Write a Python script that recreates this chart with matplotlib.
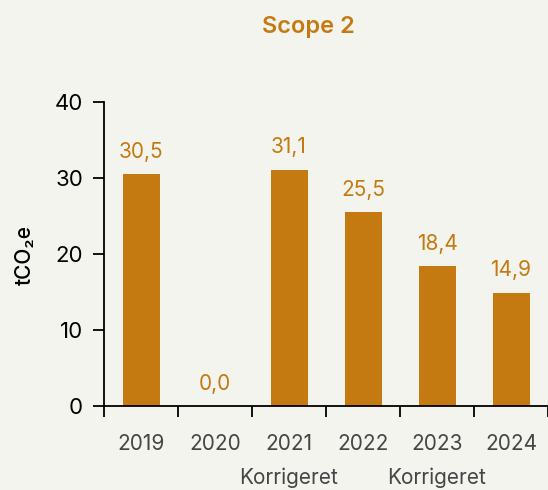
import matplotlib.pyplot as plt

plt.rcParams['font.family'] = ['Inter', 'DejaVu Sans']

years = ['2019', '2020', '2021', '2022', '2023', '2024']
notes = ['', '', 'Korrigeret', '', 'Korrigeret', '']
values = [30.5, 0.0, 31.1, 25.5, 18.4, 14.9]

bar_color = '#C47A10'
bg = '#F4F4EF'

fig = plt.figure(figsize=(5.48, 4.90), dpi=100, facecolor=bg)
ax = fig.add_axes([104/548, 1-406/490, 1-104/548, (406-102)/490])
ax.set_facecolor(bg)

x = list(range(len(years)))
bars = ax.bar(x, values, width=0.5, color=bar_color, zorder=2)

for xi, v in zip(x, values):
    ax.annotate(f'{v:.1f}'.replace('.', ','), (xi, v), xytext=(0, 9),
                textcoords='offset points', ha='center', va='bottom',
                fontsize=15, color=bar_color)

ax.set_xlim(-0.5, 5.5)
ax.set_ylim(0, 40)
ax.set_yticks([0, 10, 20, 30, 40])
ax.tick_params(axis='y', length=8, width=1.3, pad=7, labelsize=16, colors='black')

# ticks on category boundaries, labels centered under bars
ax.set_xticks([i - 0.5 for i in range(len(years) + 1)])
ax.set_xticklabels([])
ax.set_xticks(x, minor=True)
ax.set_xticklabels([f'{y}\n{n}' if n else y for y, n in zip(years, notes)],
                   minor=True, linespacing=1.85, va='top')
ax.tick_params(axis='x', which='major', length=8, width=1.3, direction='out')
ax.tick_params(axis='x', which='minor', length=0, pad=20, labelsize=15,
               labelcolor='#454545')

for s in ['top', 'right']:
    ax.spines[s].set_visible(False)
ax.spines['left'].set_linewidth(1.3)
ax.spines['bottom'].set_linewidth(1.3)

fig.text(308/548, 1-27/490, 'Scope 2', ha='center', va='center',
         fontsize=17, fontweight='semibold', color=bar_color)
fig.text(25/548, 1-255/490, 'tCO₂e', ha='center', va='center', rotation=90,
         fontsize=15, fontweight='medium', color='black')

fig.savefig('out.png', dpi=100, facecolor=bg)
